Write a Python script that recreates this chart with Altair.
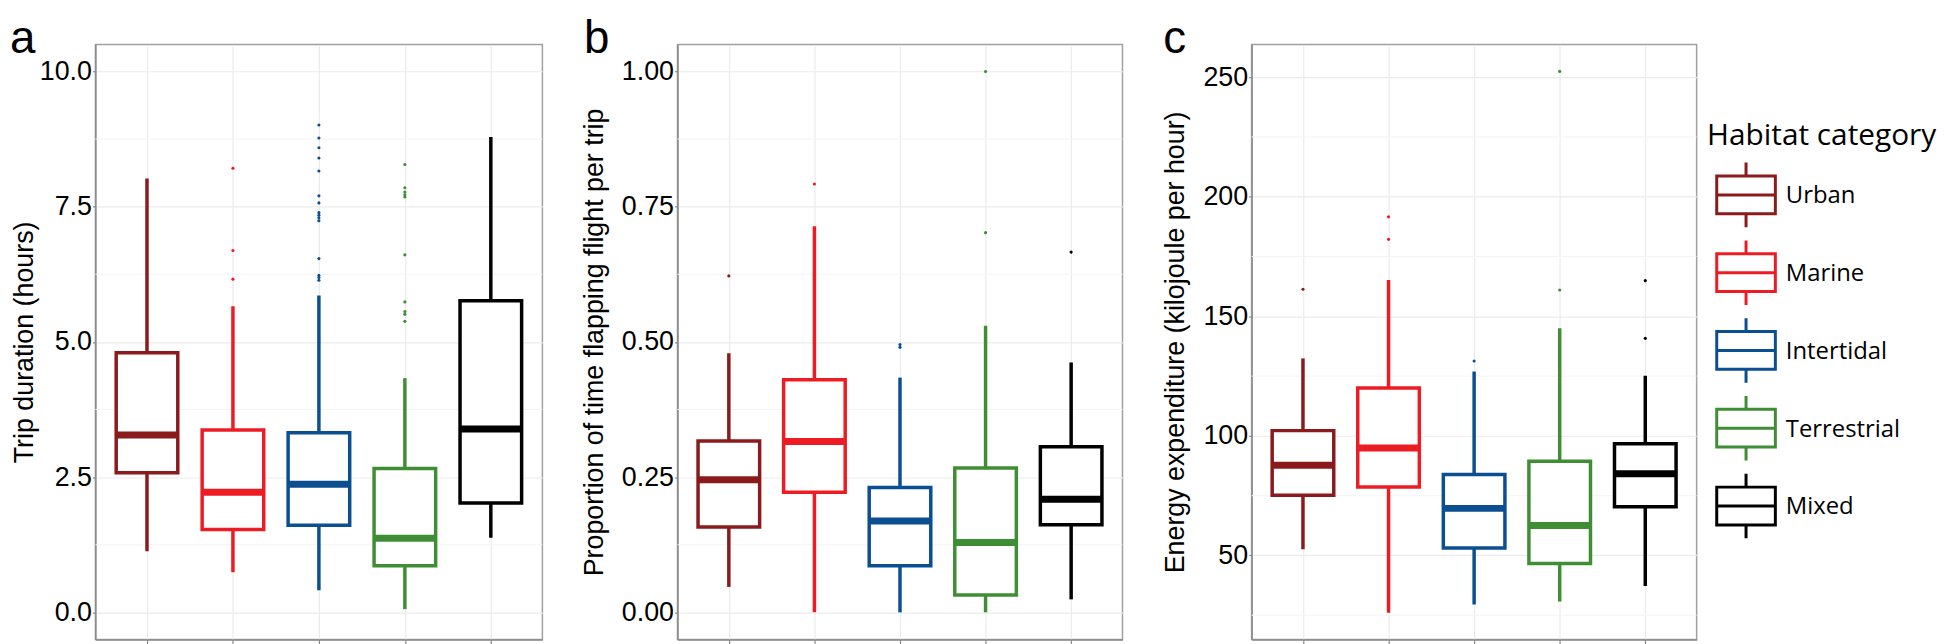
import altair as alt
import pandas as pd

cats = ["Urban", "Marine", "Intertidal", "Terrestrial", "Mixed"]
colors = ["#8B1A1C", "#ED1C24", "#0B4F91", "#3F8E35", "#000000"]

# Panel a: trip duration (hours)
a_lower = [1.13, 0.74, 0.41, 0.06, 1.38]
a_q1 = [2.58, 1.53, 1.61, 0.86, 2.02]
a_med = [3.28, 2.22, 2.37, 1.37, 3.39]
a_q3 = [4.80, 3.37, 3.32, 2.66, 5.76]
a_upper = [8.02, 5.66, 5.86, 4.33, 8.79]
a_out = [[], [8.21, 6.69, 6.16],
         [9.01, 8.77, 8.59, 8.40, 8.16, 7.70, 7.57, 7.39, 7.34, 7.29, 7.24, 6.54, 6.23, 6.19, 6.14],
         [8.28, 7.85, 7.77, 7.72, 7.68, 6.61, 5.74, 5.56, 5.51, 5.38], []]
a_ticks = [0, 2.5, 5, 7.5, 10]
a_minor = [1.25, 3.75, 6.25, 8.75]

# Panel b: proportion of time flapping flight per trip
b_lower = [0.047, 0.0, 0.0, 0.0, 0.024]
b_q1 = [0.158, 0.222, 0.086, 0.032, 0.162]
b_med = [0.245, 0.316, 0.169, 0.129, 0.209]
b_q3 = [0.317, 0.430, 0.231, 0.267, 0.306]
b_upper = [0.479, 0.714, 0.434, 0.530, 0.462]
b_out = [[0.622], [0.792], [0.495, 0.490], [1.0, 0.702], [0.666]]
b_ticks = [0, 0.25, 0.5, 0.75, 1.0]
b_minor = [0.125, 0.375, 0.625, 0.875]

# Panel c: energy expenditure (kJ per hour)
c_lower = [52.6, 26.0, 29.5, 30.8, 37.2]
c_q1 = [75.2, 78.6, 53.1, 46.6, 70.4]
c_med = [87.7, 94.9, 69.7, 62.5, 84.2]
c_q3 = [102.2, 120.0, 83.9, 89.4, 96.7]
c_upper = [132.4, 165.2, 126.9, 145.0, 125.2]
c_out = [[161.3], [191.6, 182.2], [131.3], [252.4, 161.0], [164.9, 140.8]]
c_ticks = [50, 100, 150, 200, 250]
c_minor = [25, 75, 125, 175, 225]

FONT = "Liberation Sans"
PH = 599
colsc = alt.Scale(domain=cats, range=colors)


def panel(lower, q1, med, q3, upper, outs, ticks, minor, domain, fmt, ytitle,
          letter, width, anchor_x, letter_x, title_x):
    box = pd.DataFrame({"cat": cats, "lower": lower, "q1": q1, "med": med,
                        "q3": q3, "upper": upper})
    out = pd.DataFrame([(c, v) for c, vals in zip(cats, outs) for v in vals],
                       columns=["cat", "val"])
    xaxis = alt.Axis(labels=False, title=None, ticks=True, tickSize=5,
                     tickColor="#8a8a8a", tickWidth=1.2, domain=True,
                     domainColor="#8a8a8a", domainWidth=1.5, grid=True,
                     gridColor="#ebebeb", gridWidth=1.2)
    yaxis = alt.Axis(values=ticks, format=fmt, labelFont=FONT, labelFontSize=27,
                     labelColor="black", labelPadding=1, tickSize=3,
                     tickColor="#8a8a8a", tickWidth=1.2, domain=True,
                     domainColor="#8a8a8a", domainWidth=1.5, grid=True,
                     gridColor="#ebebeb", gridWidth=1.2, title=ytitle,
                     titleFont=FONT, titleFontSize=27, titleFontWeight="normal",
                     titleColor="black", titleAngle=270, titleAlign="center",
                     titleBaseline="middle", titleX=title_x, titleY=PH / 2)
    x = alt.X("cat:N", scale=alt.Scale(type="point", domain=cats, padding=0.6), axis=xaxis)
    ysc = alt.Scale(domain=domain, nice=False, zero=False)
    color = alt.Color("cat:N", scale=colsc, legend=None)

    grid = alt.Chart(pd.DataFrame({"lower": minor})).mark_rule(
        color="#f4f4f4", strokeWidth=1).encode(
        y=alt.Y("lower:Q", scale=ysc, axis=yaxis))
    whisk = alt.Chart(box).mark_rule(strokeWidth=3.5).encode(
        x=x, y=alt.Y("lower:Q", scale=ysc, axis=yaxis), y2="upper:Q", color=color)
    bx = alt.Chart(box).mark_bar(size=62, fill="white", strokeWidth=3.5).encode(
        x=x, y=alt.Y("q1:Q", scale=ysc, axis=yaxis), y2="q3:Q",
        stroke=alt.Stroke("cat:N", scale=colsc, legend=None))
    md = alt.Chart(box).mark_tick(size=62, thickness=7, opacity=1).encode(
        x=x, y=alt.Y("med:Q", scale=ysc, axis=yaxis), color=color)
    pts = alt.Chart(out).mark_circle(size=10, opacity=1).encode(
        x=x, y=alt.Y("val:Q", scale=ysc, axis=yaxis), color=color)
    lab = alt.Chart(pd.DataFrame({"t": [letter]})).mark_text(
        font=FONT, fontSize=46, align="left", baseline="alphabetic", color="black").encode(
        text="t:N", x=alt.value(letter_x), y=alt.value(9))
    anc = alt.Chart(pd.DataFrame({"t": [0]})).mark_rule(color="white", strokeWidth=1).encode(
        x=alt.value(anchor_x), y=alt.value(-50), y2=alt.value(-49))
    return alt.layer(grid, whisk, bx, md, pts, lab, anc).properties(width=width, height=PH)


pa = panel(a_lower, a_q1, a_med, a_q3, a_upper, a_out, a_ticks, a_minor, [-0.5, 10.5],
           ".1f", "Trip duration (hours)", "a", 450, -86, -86, -71.5)
pb = panel(b_lower, b_q1, b_med, b_q3, b_upper, b_out, b_ticks, b_minor, [-0.05, 1.05],
           ".2f", "Proportion of time flapping flight per trip", "b", 448, -127.75, -94, -83.5)
pc = panel(c_lower, c_q1, c_med, c_q3, c_upper, c_out, c_ticks, c_minor, [14.9, 263.7],
           "d", "Energy expenditure (kilojoule per hour)", "c", 448, -121.25, -89, -76.5)

# Legend (drawn as its own small view)
leg_title = ["Habitat category"]
legdf = pd.DataFrame({"cat": cats})
ysc_leg = alt.Scale(type="point", domain=cats, range=[151.5, 464.7], padding=0)
glyph = ("M-0.908,-0.585H0.908V0.585H-0.908Z"
         "M-0.908,0H0.908M0,-0.585V-1M0,0.585V1")
sym = alt.Chart(legdf).mark_point(shape=glyph, size=4225, filled=False, strokeWidth=3,
                                  opacity=1).encode(
    x=alt.value(40.75), y=alt.Y("cat:N", scale=ysc_leg, axis=None),
    color=alt.Color("cat:N", scale=colsc, legend=None))
txt = alt.Chart(legdf).mark_text(font="Open Sans", fontSize=24, align="left",
                                 baseline="alphabetic", dy=8.5, color="black").encode(
    x=alt.value(80.75), y=alt.Y("cat:N", scale=ysc_leg, axis=None), text="cat:N")
ttl = alt.Chart(pd.DataFrame({"t": leg_title})).mark_text(
    font="Open Sans", fontSize=30, align="left", baseline="alphabetic", color="black").encode(
    text="t:N", x=alt.value(1.5), y=alt.value(101))
anc = alt.Chart(pd.DataFrame({"t": [0]})).mark_rule(color="white", strokeWidth=1).encode(
    x=alt.value(0), y=alt.value(-50), y2=alt.value(-49))
leg = alt.layer(sym, txt, ttl, anc).properties(
    width=228, height=PH, view=alt.ViewBackground(stroke="transparent"))

chart = alt.hconcat(pa, pb, pc, leg, spacing=5).properties(
    padding={"left": 0, "top": -17.5, "right": 0, "bottom": 0},
    background="white",
).configure_view(stroke="#a0a0a0", strokeWidth=1.5)

chart.save("out.html", embed_options={"renderer": "svg", "actions": False})
